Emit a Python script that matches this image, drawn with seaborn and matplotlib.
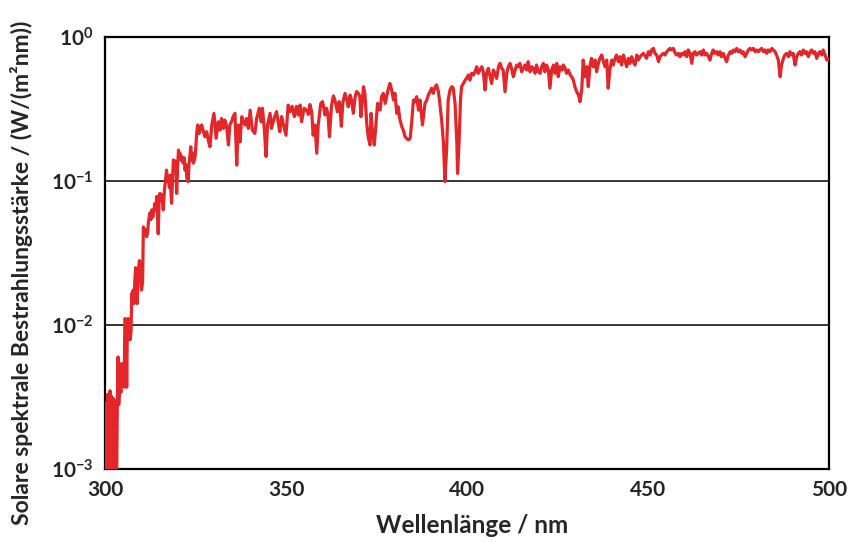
import matplotlib
matplotlib.use("Agg")
import matplotlib.pyplot as plt
from matplotlib.ticker import NullLocator
import pandas as pd
import seaborn as sns

# Solar spectral irradiance at ground level, W/(m^2 nm)
# UV-B edge, 300-326 nm
uvb_nm = [300.0, 300.2, 300.4, 300.6, 300.8, 301.0, 301.2, 301.4, 301.6, 301.8,
          302.0, 302.2, 302.4, 302.6, 302.8, 303.0, 303.2, 303.4, 303.6, 303.8,
          304.1, 304.4, 304.6, 304.9, 305.1, 305.3, 305.5, 305.8, 306.0, 306.2,
          306.4, 306.7, 306.9, 307.2, 307.4, 307.6, 307.8, 308.0, 308.3, 308.5,
          308.7, 308.9, 309.2, 309.5, 309.8, 310.1, 310.4, 310.6, 310.9, 311.1,
          311.5, 311.8, 312.0, 312.4, 312.7, 312.9, 313.2, 313.4, 313.8, 314.1,
          314.3, 314.7, 315.0, 315.2, 315.5, 315.7, 316.1, 316.4, 316.6, 317.0,
          317.3, 317.5, 317.8, 318.0, 318.4, 318.7, 318.9, 319.3, 319.6, 319.8,
          320.1, 320.3, 320.5, 320.7, 321.0, 321.2, 321.6, 321.9, 322.1, 322.4,
          322.6, 323.0, 323.2, 323.5, 323.7, 323.9, 324.2, 324.4, 324.7, 324.9,
          325.1, 325.3, 325.6, 325.8, 326.0]
uvb_irr = [0.0025, 0.0007, 0.0029, 0.0007, 0.0033, 0.0007, 0.0030, 0.0035, 0.0007, 0.0032,
           0.0007, 0.0031, 0.0007, 0.0030, 0.0007, 0.0029, 0.0007, 0.0027, 0.0060, 0.0028,
           0.0040, 0.0034, 0.0054, 0.0040, 0.0044, 0.0037, 0.0111, 0.0108, 0.0037, 0.0106,
           0.0111, 0.0095, 0.0079, 0.0090, 0.0166, 0.0150, 0.0175, 0.0141, 0.0217, 0.0250,
           0.0200, 0.0141, 0.0230, 0.0280, 0.0260, 0.0175, 0.0200, 0.0480, 0.0430, 0.0460,
           0.0410, 0.0440, 0.0520, 0.0600, 0.0540, 0.0630, 0.0560, 0.0600, 0.0700, 0.0630,
           0.0780, 0.0430, 0.0800, 0.0820, 0.0740, 0.0800, 0.0630, 0.0850, 0.0950, 0.1190,
           0.1000, 0.1070, 0.0900, 0.1100, 0.0700, 0.1100, 0.1400, 0.1380, 0.1200, 0.0820,
           0.1300, 0.1640, 0.1500, 0.1560, 0.1400, 0.1480, 0.1330, 0.1450, 0.1190, 0.1300,
           0.1050, 0.0990, 0.1300, 0.1560, 0.1730, 0.1400, 0.1560, 0.1330, 0.1400, 0.1480,
           0.1730, 0.2100, 0.2450, 0.2380, 0.2140]

# UV-A, 326-402 nm (Ca II K and H lines near 394 and 397 nm)
uva_nm = [326.7, 327.2, 327.6, 328.1, 328.5, 329.0, 329.5, 330.1, 330.7, 331.3,
          331.8, 332.2, 332.7, 333.1, 333.6, 334.1, 334.5, 335.0, 335.4, 335.9,
          336.4, 336.8, 337.3, 337.8, 338.2, 338.7, 339.1, 339.6, 340.1, 340.7,
          341.4, 341.9, 342.6, 343.1, 343.5, 344.0, 344.5, 344.9, 345.6, 346.0,
          346.7, 347.4, 347.9, 348.3, 348.8, 349.3, 350.0, 350.6, 351.1, 351.7,
          352.3, 352.9, 353.4, 353.9, 354.3, 355.0, 355.7, 356.2, 356.6, 357.1,
          357.5, 358.0, 358.5, 358.9, 359.6, 360.1, 360.8, 361.2, 361.6, 362.0,
          362.6, 363.1, 363.5, 364.2, 364.7, 365.0, 365.3, 365.7, 366.3, 366.8,
          367.2, 367.7, 368.1, 368.6, 369.1, 369.5, 370.0, 370.4, 370.7, 371.4,
          371.8, 372.3, 372.7, 373.2, 373.5, 373.9, 374.4, 374.8, 375.3, 376.0,
          376.4, 376.9, 377.4, 377.8, 378.3, 378.7, 379.2, 379.7, 380.1, 380.6,
          381.0, 381.5, 382.0, 382.4, 382.9, 383.3, 383.8, 384.3, 384.7, 385.2,
          385.6, 386.1, 386.6, 387.0, 387.7, 388.4, 388.9, 389.3, 389.8, 390.2,
          390.7, 391.2, 391.6, 392.1, 392.5, 393.0, 393.5, 393.9, 394.4, 394.8,
          395.3, 395.8, 396.2, 396.7, 397.2, 397.4, 397.8, 398.2, 398.5, 399.0,
          399.5, 399.9, 400.4, 400.8, 401.3, 401.8, 402.2]
uva_irr = [0.245, 0.220, 0.203, 0.220, 0.193, 0.173, 0.245, 0.295, 0.198, 0.258,
           0.226, 0.272, 0.232, 0.265, 0.240, 0.178, 0.245, 0.260, 0.280, 0.295,
           0.129, 0.245, 0.187, 0.280, 0.260, 0.245, 0.272, 0.232, 0.310, 0.226,
           0.214, 0.272, 0.320, 0.258, 0.320, 0.232, 0.148, 0.245, 0.295, 0.232,
           0.272, 0.303, 0.250, 0.220, 0.280, 0.245, 0.208, 0.337, 0.303, 0.330,
           0.280, 0.330, 0.287, 0.337, 0.258, 0.320, 0.310, 0.290, 0.340, 0.303,
           0.208, 0.245, 0.156, 0.245, 0.345, 0.356, 0.287, 0.320, 0.290, 0.203,
           0.337, 0.390, 0.365, 0.303, 0.356, 0.300, 0.240, 0.350, 0.406, 0.365,
           0.328, 0.395, 0.365, 0.295, 0.385, 0.418, 0.406, 0.385, 0.280, 0.452,
           0.406, 0.252, 0.203, 0.178, 0.295, 0.214, 0.178, 0.238, 0.346, 0.311,
           0.385, 0.406, 0.346, 0.385, 0.441, 0.476, 0.429, 0.365, 0.406, 0.295,
           0.328, 0.265, 0.238, 0.226, 0.203, 0.198, 0.193, 0.198, 0.252, 0.365,
           0.355, 0.385, 0.311, 0.365, 0.245, 0.346, 0.365, 0.395, 0.418, 0.441,
           0.406, 0.452, 0.465, 0.418, 0.346, 0.265, 0.183, 0.099, 0.173, 0.365,
           0.429, 0.452, 0.441, 0.346, 0.183, 0.113, 0.183, 0.365, 0.452, 0.476,
           0.502, 0.517, 0.545, 0.502, 0.560, 0.545, 0.574]

# Visible, 402-500 nm
vis_nm = [402.7, 403.1, 403.6, 404.1, 404.5, 405.0, 405.4, 405.9, 406.4, 406.8,
          407.3, 407.7, 408.2, 408.7, 409.1, 409.6, 410.0, 410.5, 411.0, 411.4,
          411.9, 412.3, 412.8, 413.3, 413.7, 414.2, 414.6, 415.1, 415.6, 416.0,
          416.5, 416.9, 417.4, 417.9, 418.3, 418.8, 419.2, 419.7, 420.2, 420.6,
          421.1, 421.5, 422.0, 422.5, 422.9, 423.4, 423.9, 424.3, 424.8, 425.2,
          425.7, 426.2, 426.6, 427.1, 427.5, 428.0, 428.5, 428.9, 429.4, 429.8,
          430.3, 430.8, 431.2, 431.7, 432.1, 432.6, 433.1, 433.5, 434.0, 434.4,
          434.9, 435.4, 435.8, 436.3, 436.7, 437.2, 437.7, 438.1, 438.6, 439.0,
          439.5, 440.0, 440.4, 440.9, 441.3, 441.8, 442.3, 442.7, 443.2, 443.6,
          444.1, 444.6, 445.0, 445.5, 445.9, 446.4, 446.9, 447.3, 447.8, 448.7,
          449.6, 450.1, 450.6, 451.0, 451.5, 451.9, 452.4, 452.9, 453.3, 454.2,
          454.7, 455.2, 455.6, 456.1, 456.5, 457.0, 457.5, 457.9, 458.4, 458.8,
          459.3, 459.8, 460.2, 460.7, 461.1, 461.6, 462.1, 462.5, 463.0, 463.4,
          463.9, 464.4, 464.8, 465.3, 465.7, 466.2, 466.7, 467.1, 467.6, 468.0,
          468.5, 469.0, 469.4, 469.9, 470.3, 470.8, 471.3, 471.7, 472.2, 472.7,
          473.1, 473.6, 474.0, 474.5, 474.9, 475.4, 475.9, 476.3, 476.8, 477.3,
          477.7, 478.2, 478.6, 479.1, 479.6, 480.0, 480.5, 480.9, 481.4, 481.9,
          482.3, 482.8, 483.2, 483.7, 484.2, 484.6, 485.1, 485.5, 486.0, 486.5,
          486.9, 487.4, 487.8, 488.3, 488.8, 489.2, 489.7, 490.1, 490.6, 491.1,
          491.5, 492.0, 492.4, 492.9, 493.4, 493.8, 494.3, 494.8, 495.2, 495.7,
          496.1, 496.6, 497.1, 497.5, 498.0, 498.4, 498.9, 499.4, 499.8, 500.0]
vis_irr = [0.622, 0.560, 0.590, 0.622, 0.574, 0.429, 0.560, 0.606, 0.530, 0.476,
           0.590, 0.560, 0.516, 0.622, 0.656, 0.606, 0.590, 0.417, 0.560, 0.622,
           0.656, 0.606, 0.530, 0.590, 0.639, 0.622, 0.656, 0.574, 0.606, 0.639,
           0.590, 0.674, 0.574, 0.622, 0.606, 0.560, 0.639, 0.574, 0.560, 0.622,
           0.656, 0.574, 0.639, 0.590, 0.441, 0.590, 0.639, 0.560, 0.656, 0.530,
           0.622, 0.590, 0.639, 0.606, 0.560, 0.590, 0.545, 0.530, 0.502, 0.452,
           0.417, 0.396, 0.356, 0.429, 0.692, 0.530, 0.622, 0.452, 0.639, 0.711,
           0.622, 0.692, 0.574, 0.656, 0.711, 0.750, 0.674, 0.622, 0.692, 0.441,
           0.606, 0.692, 0.639, 0.711, 0.750, 0.674, 0.730, 0.639, 0.750, 0.692,
           0.622, 0.711, 0.656, 0.730, 0.674, 0.639, 0.750, 0.692, 0.730, 0.770,
           0.711, 0.791, 0.750, 0.813, 0.834, 0.770, 0.750, 0.674, 0.730, 0.770,
           0.750, 0.791, 0.813, 0.834, 0.813, 0.834, 0.770, 0.750, 0.770, 0.730,
           0.770, 0.750, 0.791, 0.730, 0.813, 0.770, 0.656, 0.770, 0.791, 0.750,
           0.770, 0.791, 0.750, 0.813, 0.750, 0.770, 0.730, 0.692, 0.770, 0.813,
           0.770, 0.791, 0.750, 0.791, 0.730, 0.770, 0.711, 0.674, 0.750, 0.791,
           0.770, 0.813, 0.791, 0.834, 0.791, 0.813, 0.770, 0.791, 0.730, 0.770,
           0.813, 0.834, 0.813, 0.834, 0.791, 0.813, 0.791, 0.813, 0.834, 0.791,
           0.813, 0.770, 0.813, 0.791, 0.834, 0.813, 0.791, 0.750, 0.692, 0.530,
           0.639, 0.711, 0.750, 0.770, 0.730, 0.791, 0.750, 0.770, 0.639, 0.730,
           0.770, 0.791, 0.750, 0.813, 0.770, 0.791, 0.730, 0.791, 0.813, 0.770,
           0.791, 0.711, 0.770, 0.791, 0.750, 0.813, 0.750, 0.692, 0.711, 0.711]

x_ticks = [300, 350, 400, 450, 500]
y_ticks = [1e-3, 1e-2, 1e-1, 1e0]
y_tick_labels = [r"$\mathbf{10^{-3}}$", r"$\mathbf{10^{-2}}$",
                 r"$\mathbf{10^{-1}}$", r"$\mathbf{10^{0}}$"]
x_label = "Wellenlänge / nm"
y_label = "Solare spektrale Bestrahlungsstärke / (W/(m²nm))"

spectrum = pd.DataFrame({
    "nm": uvb_nm + uva_nm + vis_nm,
    "irr": uvb_irr + uva_irr + vis_irr,
})

sns.set_style("white")
plt.rcParams["font.family"] = ["Lato", "DejaVu Sans"]
plt.rcParams["font.weight"] = "bold"
plt.rcParams["mathtext.fontset"] = "custom"
plt.rcParams["mathtext.rm"] = "Lato:bold"
plt.rcParams["mathtext.bf"] = "Lato:bold"
plt.rcParams["mathtext.it"] = "Lato:bold"

fig = plt.figure(figsize=(8.48, 5.42), dpi=100)
ax = fig.add_axes([0.1238, 0.1347, 0.8538, 0.797])

for level in (1e-2, 1e-1):
    ax.axhline(level, color="black", linewidth=1.1, zorder=1)

sns.lineplot(data=spectrum, x="nm", y="irr", ax=ax, color="#E3262A",
             linewidth=2.3, estimator=None, sort=False, zorder=3)

ax.set_yscale("log")
ax.set_xlim(300, 500)
ax.set_ylim(1e-3, 1e0)
ax.set_xticks(x_ticks)
ax.set_xticklabels([str(t) for t in x_ticks])
ax.set_yticks(y_ticks)
ax.set_yticklabels(y_tick_labels)
ax.yaxis.set_minor_locator(NullLocator())
ax.tick_params(axis="both", which="major", direction="out", length=4,
               width=1.4, color="black", labelsize=15, pad=4)
for side in ("left", "right", "top", "bottom"):
    ax.spines[side].set_visible(True)
    ax.spines[side].set_color("black")
    ax.spines[side].set_linewidth(1.6)

ax.set_xlabel(x_label, fontsize=17.5, fontweight="bold")
ax.set_ylabel(y_label, fontsize=16.5, fontweight="bold")
ax.xaxis.set_label_coords(0.507, -0.105)
ax.yaxis.set_label_coords(-0.100, 0.455)

fig.savefig("out.png", dpi=100)
